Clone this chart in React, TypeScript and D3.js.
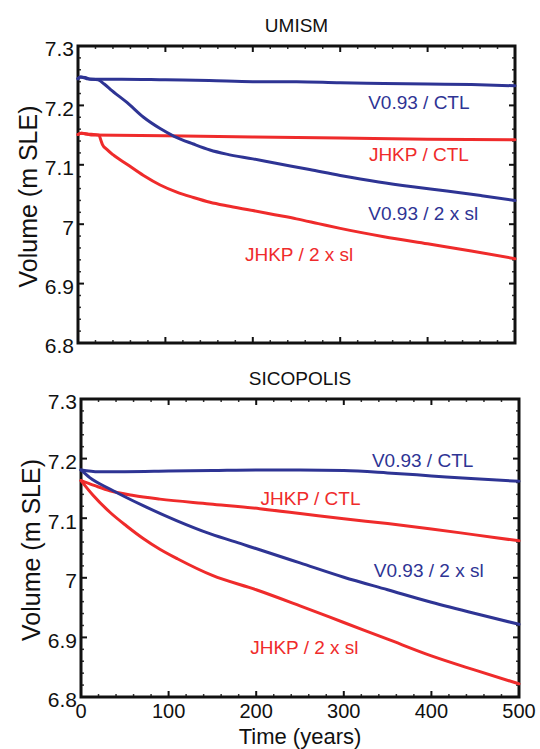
import React from "react";
import * as d3 from "d3";

type Pt = [number, number];

// ---------- data ----------
const xTicks = [0, 100, 200, 300, 400, 500];
const yTicks = [6.8, 6.9, 7, 7.1, 7.2, 7.3];
const yTickLabels = ["6.8", "6.9", "7", "7.1", "7.2", "7.3"];

const umismV093Ctl: Pt[] = [[0,7.245],[3,7.248],[8,7.247],[15,7.244],[50,7.244],[100,7.243],[150,7.242],[200,7.240],[250,7.240],[300,7.238],[350,7.237],[400,7.236],[450,7.235],[500,7.233]];
const umismJhkpCtl: Pt[] = [[0,7.151],[4,7.153],[10,7.152],[15,7.150],[100,7.149],[200,7.147],[300,7.145],[400,7.143],[500,7.142]];
const umismV0932sl: Pt[] = [[0,7.245],[3,7.248],[10,7.245],[23,7.243],[30,7.236],[37,7.227],[56,7.205],[75,7.180],[94,7.161],[110,7.148],[132,7.135],[151,7.125],[170,7.118],[200,7.110],[225,7.103],[265,7.092],[300,7.082],[344,7.071],[383,7.063],[422,7.056],[462,7.048],[500,7.040]];
const umismJhkp2sl: Pt[] = [[0,7.151],[4,7.153],[10,7.152],[24,7.150],[26,7.142],[28,7.134],[33,7.126],[40,7.117],[56,7.101],[75,7.082],[94,7.066],[113,7.054],[132,7.045],[151,7.037],[170,7.031],[200,7.023],[225,7.016],[250,7.009],[275,7.001],[300,6.993],[350,6.979],[400,6.967],[450,6.955],[500,6.942]];

const sicoV093Ctl: Pt[] = [[0,7.181],[20,7.178],[50,7.178],[100,7.179],[150,7.180],[200,7.181],[250,7.181],[300,7.180],[350,7.176],[400,7.171],[450,7.166],[500,7.162]];
const sicoJhkpCtl: Pt[] = [[0,7.163],[15,7.155],[33,7.146],[60,7.138],[90,7.132],[147,7.124],[204,7.116],[250,7.108],[300,7.099],[350,7.091],[400,7.082],[450,7.072],[500,7.062]];
const sicoV0932sl: Pt[] = [[0,7.181],[10,7.168],[33,7.149],[71,7.121],[109,7.096],[147,7.074],[185,7.056],[204,7.047],[250,7.025],[300,7.001],[350,6.980],[400,6.959],[450,6.940],[500,6.922]];
const sicoJhkp2sl: Pt[] = [[0,7.163],[14,7.138],[33,7.110],[52,7.087],[71,7.066],[90,7.048],[110,7.032],[150,7.004],[200,6.980],[250,6.953],[300,6.925],[350,6.897],[400,6.869],[450,6.845],[500,6.822]];

const seriesNames = ["V0.93 / CTL", "JHKP / CTL", "V0.93 / 2 x sl", "JHKP / 2 x sl"];
const umismLabelPos: Pt[] = [[390, 7.205], [390, 7.117], [395, 7.019], [253, 6.949]];
const sicoLabelPos: Pt[] = [[390, 7.197], [262, 7.133], [397, 7.012], [255, 6.883]];

const BLUE = "#2e3494";
const RED = "#ef2b2b";
const seriesColors = [BLUE, RED, BLUE, RED];
const FONT = "'Liberation Sans', Arial, Helvetica, sans-serif";

interface PanelProps {
  title: string;
  left: number; right: number; top: number; bottom: number;
  series: Pt[][];
  labelPos: Pt[];
  showXLabels: boolean;
}

function Panel({ title, left, right, top, bottom, series, labelPos, showXLabels }: PanelProps) {
  const x = d3.scaleLinear().domain([0, 500]).range([left, right]);
  const y = d3.scaleLinear().domain([6.8, 7.3]).range([bottom, top]);
  const line = d3.line<Pt>().x(d => x(d[0])).y(d => y(d[1])).curve(d3.curveMonotoneX);
  const minorX = d3.range(0, 501, 20).filter(v => v % 100 !== 0);
  const minorY = d3.range(0, 26).map(i => 6.8 + i * 0.02).filter((v, i) => i % 5 !== 0);
  const T = 6, t = 3;
  const cx = (left + right) / 2;
  const cy = (top + bottom) / 2;
  return (
    <g>
      <text x={cx} y={top - 14} textAnchor="middle" fontSize={19} fontFamily={FONT} fill="#111">{title}</text>
      {xTicks.map(v => (
        <g key={"xt" + v} stroke="#111" strokeWidth={2}>
          <line x1={x(v)} x2={x(v)} y1={bottom} y2={bottom - T} />
          <line x1={x(v)} x2={x(v)} y1={top} y2={top + T} />
        </g>
      ))}
      {minorX.map(v => (
        <g key={"mx" + v} stroke="#333" strokeWidth={1.5}>
          <line x1={x(v)} x2={x(v)} y1={bottom} y2={bottom - t} />
          <line x1={x(v)} x2={x(v)} y1={top} y2={top + t} />
        </g>
      ))}
      {yTicks.map(v => (
        <g key={"yt" + v} stroke="#111" strokeWidth={2}>
          <line x1={left} x2={left + T} y1={y(v)} y2={y(v)} />
          <line x1={right} x2={right - T} y1={y(v)} y2={y(v)} />
        </g>
      ))}
      {minorY.map(v => (
        <g key={"my" + v} stroke="#333" strokeWidth={1.5}>
          <line x1={left} x2={left + t} y1={y(v)} y2={y(v)} />
          <line x1={right} x2={right - t} y1={y(v)} y2={y(v)} />
        </g>
      ))}
      <rect x={left} y={top} width={right - left} height={bottom - top} fill="none" stroke="#111" strokeWidth={3} />
      {yTicks.map((v, i) => (
        <text key={"yl" + v} x={left - 4} y={y(v) + 3} dy="0.35em" textAnchor="end" fontSize={21} fontFamily={FONT} fill="#111">{yTickLabels[i]}</text>
      ))}
      {showXLabels && xTicks.map(v => (
        <text key={"xl" + v} x={x(v)} y={bottom + 14} dy="0.35em" textAnchor="middle" fontSize={20} fontFamily={FONT} fill="#111">{String(v)}</text>
      ))}
      <text transform={`translate(${left - 50},${cy + 2}) rotate(-90)`} dy="0.35em" textAnchor="middle" fontSize={25} fontFamily={FONT} fill="#111">Volume (m SLE)</text>
      {series.map((s, i) => (
        <path key={"s" + i} d={line(s) || ""} fill="none" stroke={seriesColors[i]} strokeWidth={3} strokeLinejoin="round" strokeLinecap="round" />
      ))}
      {labelPos.map((p, i) => (
        <text key={"lab" + i} x={x(p[0])} y={y(p[1])} dy="0.35em" textAnchor="middle" fontSize={19} fontFamily={FONT} fill={seriesColors[i]}>{seriesNames[i]}</text>
      ))}
    </g>
  );
}

export default function App() {
  return (
    <svg width={540} height={749} style={{ position: "absolute", left: 0, top: 0, background: "#fff" }}>
      <rect x={0} y={0} width={540} height={749} fill="#fff" />
      <Panel title="UMISM" left={78} right={515} top={46} bottom={343}
        series={[umismV093Ctl, umismJhkpCtl, umismV0932sl, umismJhkp2sl]}
        labelPos={umismLabelPos} showXLabels={false} />
      <Panel title="SICOPOLIS" left={81} right={519} top={399} bottom={697}
        series={[sicoV093Ctl, sicoJhkpCtl, sicoV0932sl, sicoJhkp2sl]}
        labelPos={sicoLabelPos} showXLabels={true} />
      <text x={300} y={744} textAnchor="middle" fontSize={22} fontFamily={FONT} fill="#111">Time (years)</text>
    </svg>
  );
}
